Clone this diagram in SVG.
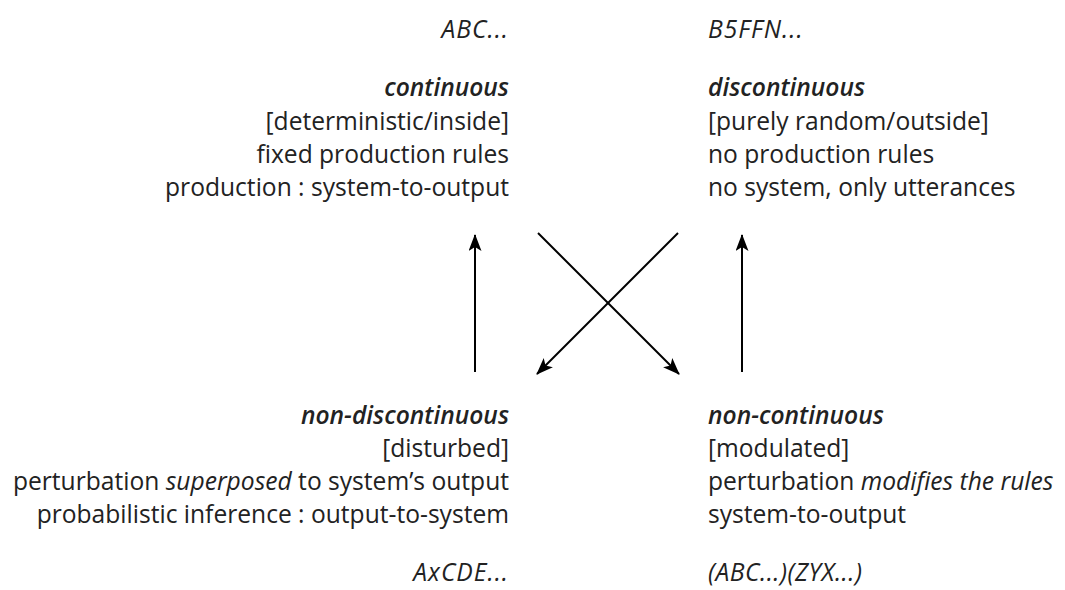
<svg xmlns="http://www.w3.org/2000/svg" width="1065" height="590" viewBox="0 0 1065 590">
<defs>
<style>
text{font-family:"Open Sans","Noto Sans","Liberation Sans",sans-serif;font-size:24.6px;fill:#222}
.l{text-anchor:end}
.it{font-style:italic}
.sp{letter-spacing:1px}
.bi{font-style:italic;font-weight:600}
.cx line{stroke:#000;stroke-width:2;marker-end:url(#ah)}
</style>
<marker id="ah" viewBox="0 0 17 13" refX="16" refY="6.5" markerWidth="17" markerHeight="13" markerUnits="userSpaceOnUse" orient="auto">
<path d="M0,0 L17,6.5 L0,13 L4,6.5 z" fill="#000"/>
</marker>
</defs>
<rect width="1065" height="590" fill="#fff"/>
<g id="continuous">
<text class="l it sp" x="509" y="38">ABC...</text>
<text class="l bi" x="509" y="96">continuous</text>
<text class="l" x="509" y="130">[deterministic/inside]</text>
<text class="l" x="509" y="163">fixed production rules</text>
<text class="l" x="509" y="196">production : system-to-output</text>
</g>
<g id="discontinuous">
<text class="it sp" x="708" y="38">B5FFN...</text>
<text class="bi" x="708" y="96">discontinuous</text>
<text x="708" y="130">[purely random/outside]</text>
<text x="708" y="163">no production rules</text>
<text x="708" y="196">no system, only utterances</text>
</g>
<g id="non-discontinuous">
<text class="l bi" x="509" y="424">non-discontinuous</text>
<text class="l" x="509" y="457">[disturbed]</text>
<text class="l" x="509" y="490">perturbation <tspan class="it">superposed</tspan> to system’s output</text>
<text class="l" x="509" y="523">probabilistic inference : output-to-system</text>
<text class="l it sp" x="509" y="581">AxCDE...</text>
</g>
<g id="non-continuous">
<text class="bi" x="708" y="424">non-continuous</text>
<text x="708" y="457">[modulated]</text>
<text x="708" y="490">perturbation <tspan class="it">modifies the rules</tspan></text>
<text x="708" y="523">system-to-output</text>
<text class="it" x="708" y="581" style="letter-spacing:0.5px">(ABC...)(ZYX...)</text>
</g>
<g id="connectors" class="cx">
<line x1="475" y1="372" x2="475" y2="235"/>
<line x1="742" y1="372" x2="742" y2="235"/>
<line x1="538" y1="233" x2="679" y2="374"/>
<line x1="678" y1="233" x2="537" y2="374"/>
</g>
</svg>
